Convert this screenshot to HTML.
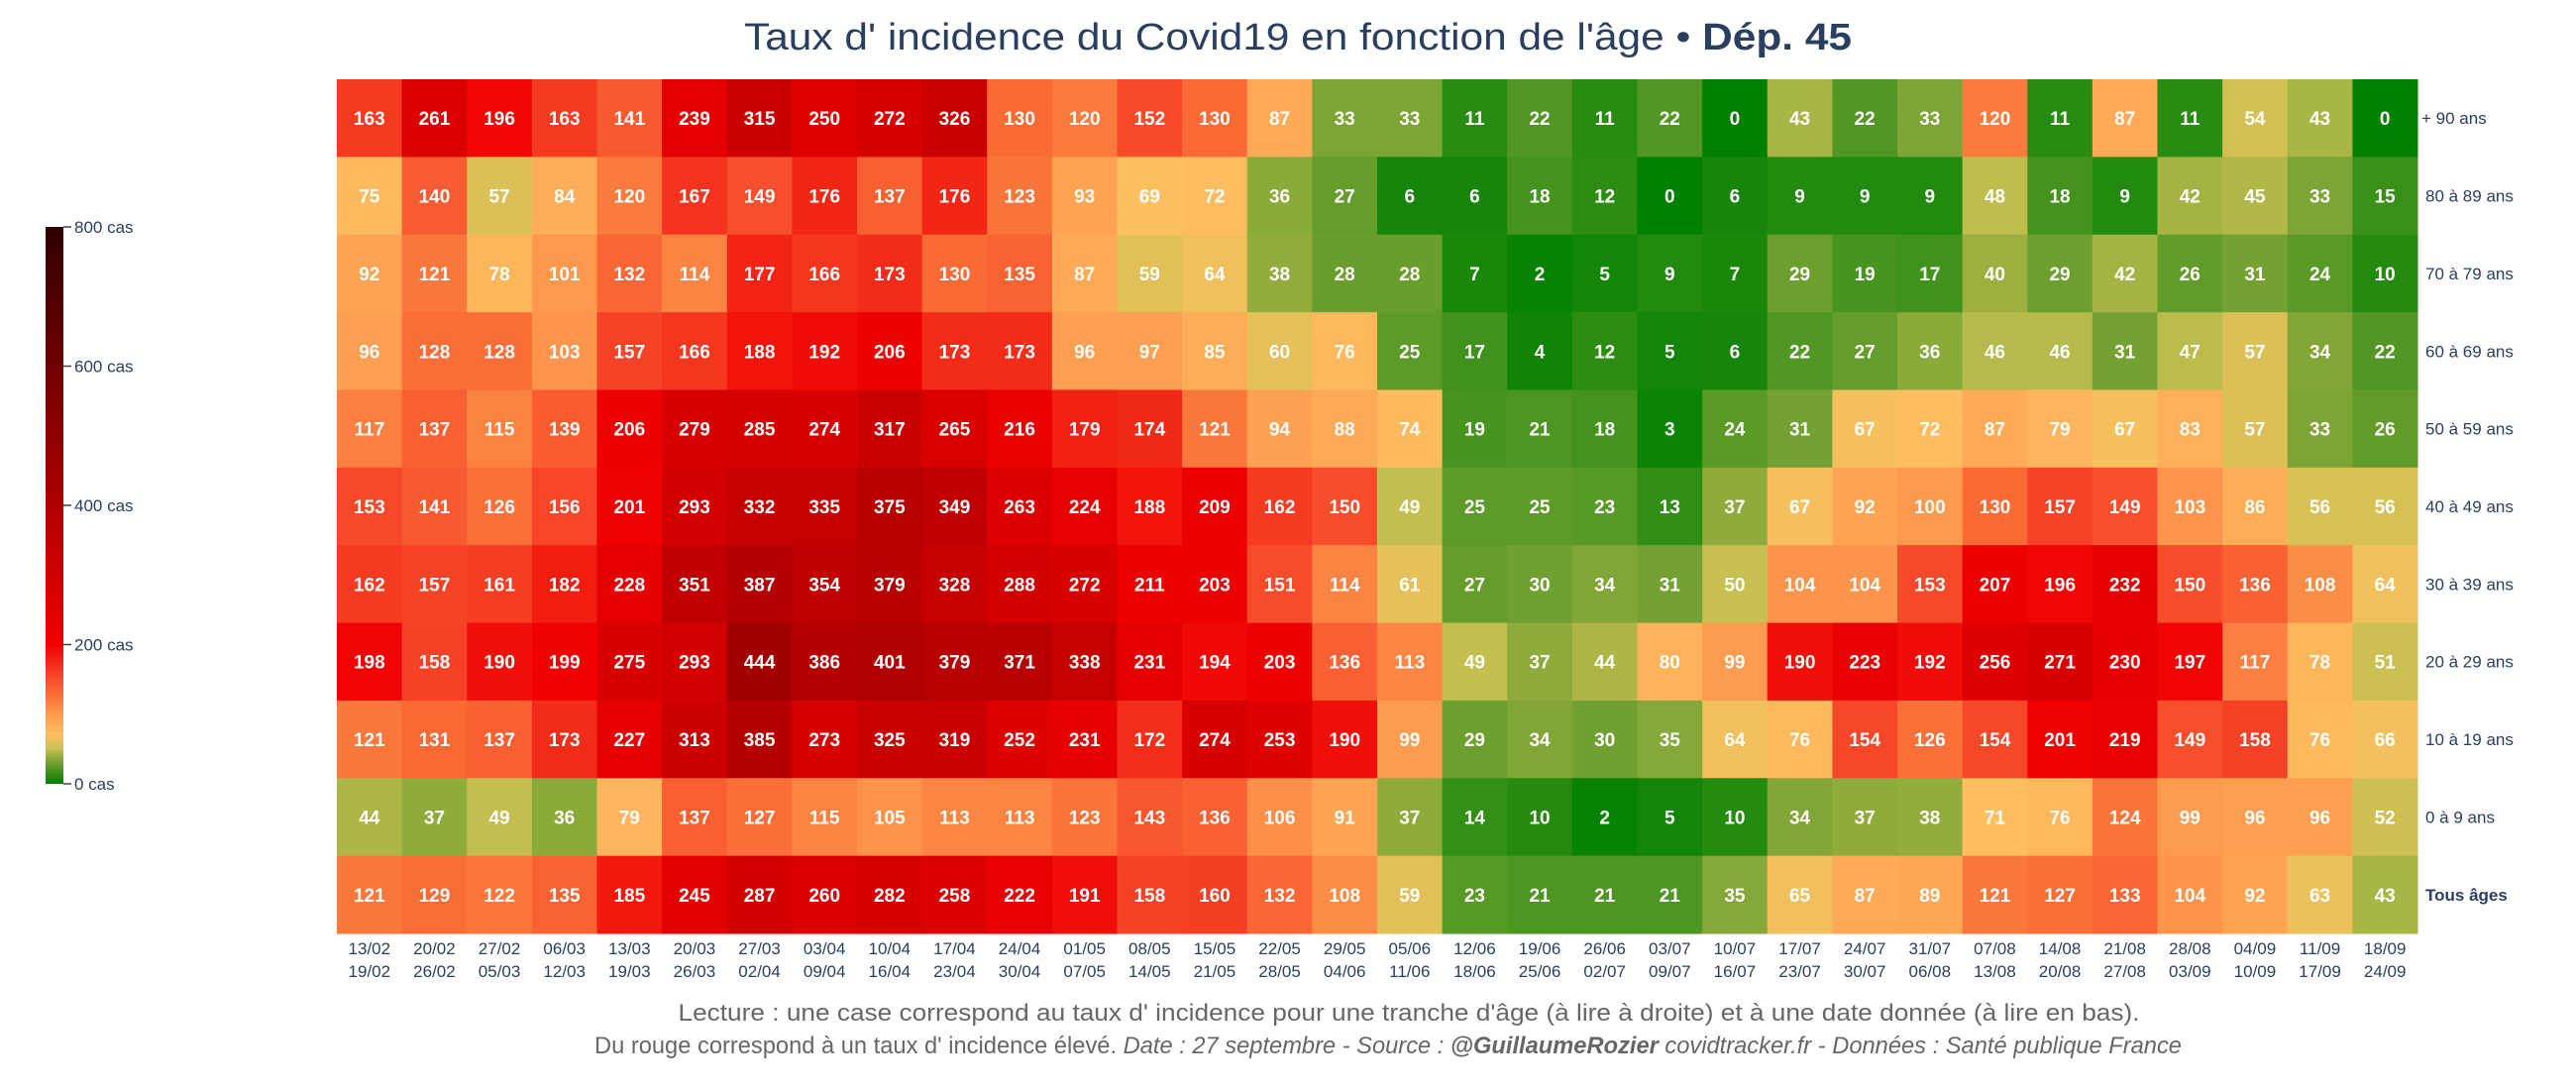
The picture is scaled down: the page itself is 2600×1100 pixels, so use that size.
<!DOCTYPE html>
<html><head><meta charset="utf-8"><style>
html,body{margin:0;padding:0;background:#fff;}
svg{display:block;font-family:"Liberation Sans",sans-serif;}
</style></head><body>
<svg id="chart" width="2600" height="1100" viewBox="0 0 2600 1100">
<defs>
<linearGradient id="cbgrad" x1="0" y1="1" x2="0" y2="0">
<stop offset="0" stop-color="#008000"/>
<stop offset="0.0375" stop-color="#70a030"/>
<stop offset="0.0625" stop-color="#c8c050"/>
<stop offset="0.0875" stop-color="#ffc060"/>
<stop offset="0.125" stop-color="#fd9a4e"/>
<stop offset="0.1625" stop-color="#fa6a35"/>
<stop offset="0.2" stop-color="#f53f25"/>
<stop offset="0.25" stop-color="#f00000"/>
<stop offset="0.375" stop-color="#d00000"/>
<stop offset="0.5" stop-color="#b00000"/>
<stop offset="0.75" stop-color="#700000"/>
<stop offset="1" stop-color="#300000"/>
</linearGradient>
</defs>
<text x="1310" y="50" text-anchor="middle" font-size="38" fill="#2a3f5f" textLength="1118" lengthAdjust="spacingAndGlyphs">Taux d' incidence du Covid19 en fonction de l'âge • <tspan font-weight="bold">Dép. 45</tspan></text>
<g id="cells"></g>
<g id="ylabels"></g>
<g id="xlabels"></g>
<g id="colorbar"></g>
<text x="1422" y="1030" text-anchor="middle" font-size="24" fill="#666" textLength="1475" lengthAdjust="spacingAndGlyphs">Lecture : une case correspond au taux d' incidence pour une tranche d'âge (à lire à droite) et à une date donnée (à lire en bas).</text>
<text x="1401" y="1063" text-anchor="middle" font-size="24" fill="#666" textLength="1602" lengthAdjust="spacingAndGlyphs">Du rouge correspond à un taux d' incidence élevé.  <tspan font-style="italic">Date : 27 septembre - Source : </tspan><tspan font-style="italic" font-weight="bold">@GuillaumeRozier</tspan><tspan font-style="italic"> covidtracker.fr - Données : Santé publique France</tspan></text>
</svg>
<script>
const ageGroups = ["+ 90 ans","80 à 89 ans","70 à 79 ans","60 à 69 ans","50 à 59 ans","40 à 49 ans","30 à 39 ans","20 à 29 ans","10 à 19 ans","0 à 9 ans","Tous âges"];
const weekStarts = ["13/02","20/02","27/02","06/03","13/03","20/03","27/03","03/04","10/04","17/04","24/04","01/05","08/05","15/05","22/05","29/05","05/06","12/06","19/06","26/06","03/07","10/07","17/07","24/07","31/07","07/08","14/08","21/08","28/08","04/09","11/09","18/09"];
const weekEnds = ["19/02","26/02","05/03","12/03","19/03","26/03","02/04","09/04","16/04","23/04","30/04","07/05","14/05","21/05","28/05","04/06","11/06","18/06","25/06","02/07","09/07","16/07","23/07","30/07","06/08","13/08","20/08","27/08","03/09","10/09","17/09","24/09"];
const row90 = [163,261,196,163,141,239,315,250,272,326,130,120,152,130,87,33,33,11,22,11,22,0,43,22,33,120,11,87,11,54,43,0];
const row80 = [75,140,57,84,120,167,149,176,137,176,123,93,69,72,36,27,6,6,18,12,0,6,9,9,9,48,18,9,42,45,33,15];
const row70 = [92,121,78,101,132,114,177,166,173,130,135,87,59,64,38,28,28,7,2,5,9,7,29,19,17,40,29,42,26,31,24,10];
const row60 = [96,128,128,103,157,166,188,192,206,173,173,96,97,85,60,76,25,17,4,12,5,6,22,27,36,46,46,31,47,57,34,22];
const row50 = [117,137,115,139,206,279,285,274,317,265,216,179,174,121,94,88,74,19,21,18,3,24,31,67,72,87,79,67,83,57,33,26];
const row40 = [153,141,126,156,201,293,332,335,375,349,263,224,188,209,162,150,49,25,25,23,13,37,67,92,100,130,157,149,103,86,56,56];
const row30 = [162,157,161,182,228,351,387,354,379,328,288,272,211,203,151,114,61,27,30,34,31,50,104,104,153,207,196,232,150,136,108,64];
const row20 = [198,158,190,199,275,293,444,386,401,379,371,338,231,194,203,136,113,49,37,44,80,99,190,223,192,256,271,230,197,117,78,51];
const row10 = [121,131,137,173,227,313,385,273,325,319,252,231,172,274,253,190,99,29,34,30,35,64,76,154,126,154,201,219,149,158,76,66];
const row0 = [44,37,49,36,79,137,127,115,105,113,113,123,143,136,106,91,37,14,10,2,5,10,34,37,38,71,76,124,99,96,96,52];
const rowAll = [121,129,122,135,185,245,287,260,282,258,222,191,158,160,132,108,59,23,21,21,21,35,65,87,89,121,127,133,104,92,63,43];
const colorTicks = [0,200,400,600,800];

const rows = [row90,row80,row70,row60,row50,row40,row30,row20,row10,row0,rowAll];
const NS = "http://www.w3.org/2000/svg";
const X0 = 340, X1 = 2440, Y0 = 80, Y1 = 942;
const cw = (X1 - X0) / weekStarts.length, ch = (Y1 - Y0) / ageGroups.length;
const xPos = i => X0 + i * cw;
const yPos = j => Y0 + j * ch;
const cbTop = 229, cbBot = 791, cbMax = 800;
const cbY = v => cbBot - (v / cbMax) * (cbBot - cbTop);

const stops = [[0,[0,128,0]],[30,[112,160,48]],[50,[200,192,80]],[70,[255,192,96]],[100,[253,154,78]],[130,[250,106,53]],[160,[245,63,37]],[200,[240,0,0]],[300,[208,0,0]],[400,[176,0,0]],[600,[112,0,0]],[800,[48,0,0]]];
function color(v){
  for (let k = 1; k < stops.length; k++) {
    if (v <= stops[k][0]) {
      const a = stops[k-1], b = stops[k], t = (v - a[0]) / (b[0] - a[0]);
      const c = a[1].map((x, i) => Math.round(x + (b[1][i] - x) * t));
      return "rgb(" + c.join(",") + ")";
    }
  }
  return "rgb(48,0,0)";
}
function mk(tag, attrs, parent, text){
  const e = document.createElementNS(NS, tag);
  for (const k in attrs) e.setAttribute(k, attrs[k]);
  if (text !== undefined) e.textContent = text;
  parent.appendChild(e);
  return e;
}
const gc = document.getElementById("cells");
rows.forEach((r, j) => {
  r.forEach((v, i) => {
    const rc = mk("rect", {x: xPos(i), y: yPos(j), width: cw + 0.5, height: ch + 0.5, fill: color(v)}, gc);
    
    
    const t = mk("text", {x: xPos(i) + cw/2, y: yPos(j) + ch/2 + 7, "text-anchor": "middle", "font-size": 19, "font-weight": "bold", fill: "#fff"}, gc, String(v));
    
    
  });
});
const gy = document.getElementById("ylabels");
ageGroups.forEach((a, j) => {
  const t = mk("text", {x: j === 0 ? 2444 : 2448, y: yPos(j) + ch/2 + 6, "font-size": 17, fill: "#2a3f5f", "font-weight": j === ageGroups.length - 1 ? "bold" : "normal"}, gy, a);
  
  
});
const gx = document.getElementById("xlabels");
weekStarts.forEach((d, i) => {
  const t1 = mk("text", {x: xPos(i) + cw/2, y: 963, "text-anchor": "middle", "font-size": 17, fill: "#2a3f5f"}, gx, d);
  
  
  const t2 = mk("text", {x: xPos(i) + cw/2, y: 986, "text-anchor": "middle", "font-size": 17, fill: "#2a3f5f"}, gx, weekEnds[i]);
  
  
});
const gb = document.getElementById("colorbar");
const bar = mk("rect", {x: 46, y: cbTop, width: 18, height: cbBot - cbTop, fill: "url(#cbgrad)"}, gb);


colorTicks.forEach(v => {
  const l = mk("line", {x1: 64, x2: 72, y1: cbY(v), y2: cbY(v), stroke: "#444", "stroke-width": 1.5}, gb);
  
  
  const t = mk("text", {x: 75, y: cbY(v) + 6, "font-size": 17, fill: "#2a3f5f"}, gb, v + " cas");
  
  
});
</script>
</body></html>
